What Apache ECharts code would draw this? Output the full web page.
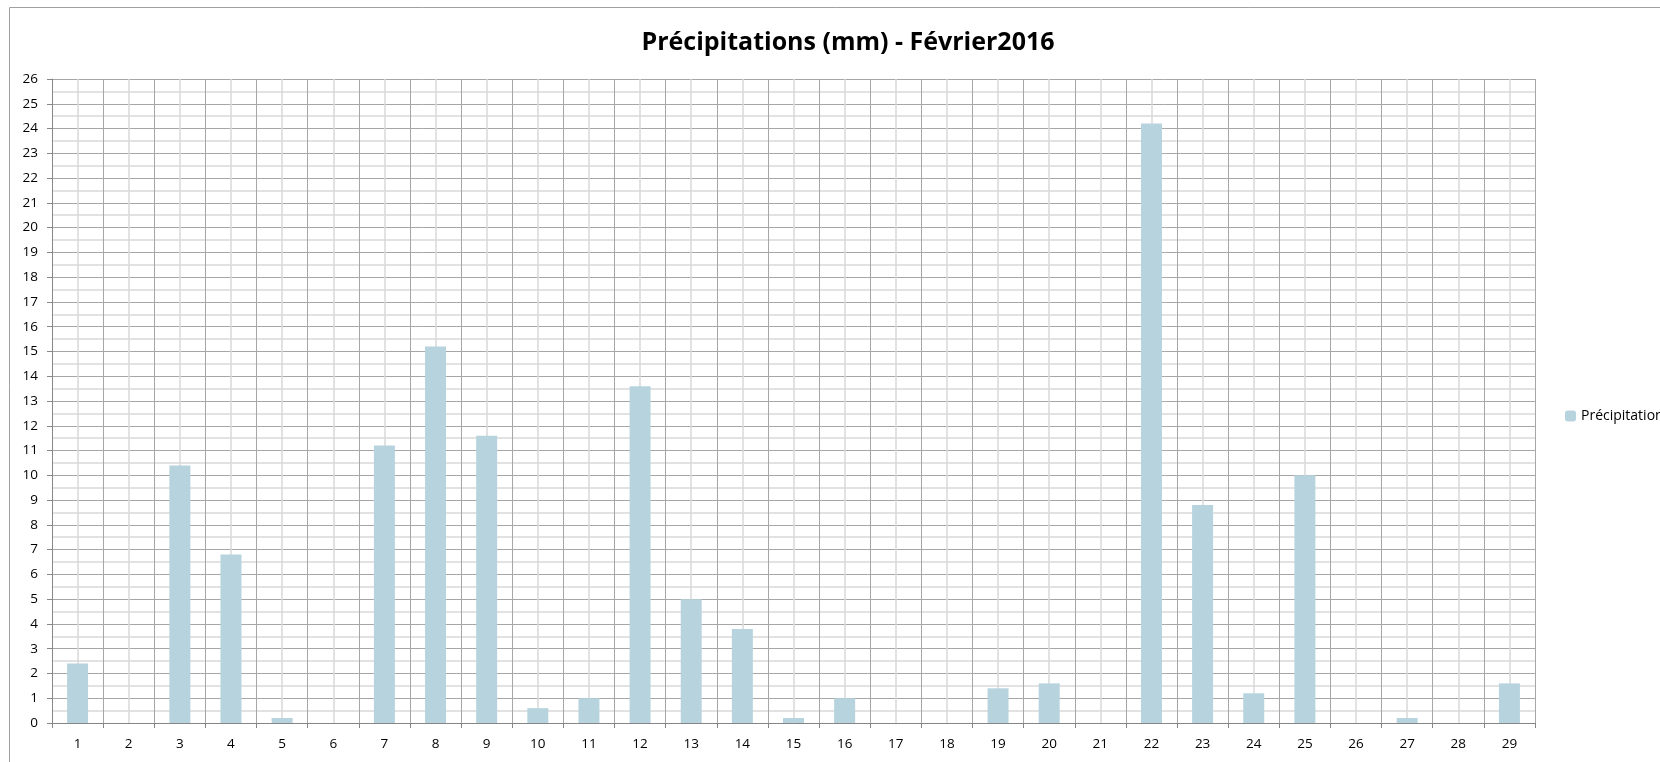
<!DOCTYPE html>
<html>
<head>
<meta charset="utf-8">
<script src="https://cdn.jsdelivr.net/npm/echarts@6/dist/echarts.min.js"></script>
<style>html,body{margin:0;padding:0;background:#fff;}#c{width:1660px;height:762px;}</style>
</head>
<body>
<div id="c"></div>
<script>
const titleText = 'Précipitations (mm) - Février2016';
const seriesName = 'Précipitations';
const days = ['1','2','3','4','5','6','7','8','9','10','11','12','13','14','15','16','17','18','19','20','21','22','23','24','25','26','27','28','29'];
const rain = [2.4,0,10.4,6.8,0.2,0,11.2,15.2,11.6,0.6,1.0,13.6,5.0,3.8,0.2,1.0,0,0,1.4,1.6,0,24.2,8.8,1.2,10.0,0,0.2,0,1.6];

const chart = echarts.init(document.getElementById('c'), null, {renderer:'canvas'});
const font = "'Open Sans', 'Noto Sans', sans-serif";
chart.setOption({
  animation:false,
  backgroundColor:'#fff',
  graphic:[{type:'rect', shape:{x:9.5,y:7.5,width:1700,height:800}, style:{fill:'none', stroke:'#a0a0a0', lineWidth:1}, z:-10}],
  title:{text:titleText, left:843, top:25, textAlign:'center',
    textStyle:{fontFamily:font, fontWeight:'bold', fontSize:25, color:'#000'}},
  legend:{data:[seriesName], left:1560, top:404, orient:'vertical', itemWidth:11, itemHeight:11, itemGap:4,
    textStyle:{fontFamily:font, fontSize:14, color:'#000'}},
  grid:{left:52, top:79, width:1483, height:644, containLabel:false},
  xAxis:[{type:'category', data:days, boundaryGap:true,
      axisLine:{lineStyle:{color:'#868686'}}, axisTick:{show:true, length:5, lineStyle:{color:'#868686'}},
      axisLabel:{fontFamily:font, fontSize:13.5, color:'#000', margin:14}, splitLine:{show:false}},
    {type:'value', min:0, max:days.length, interval:1, show:true, position:'bottom',
      axisLine:{show:false}, axisTick:{show:false}, axisLabel:{show:false},
      splitLine:{show:true, lineStyle:{color:'#a6a6a6', width:1}},
      minorTick:{show:false, splitNumber:2},
      minorSplitLine:{show:true, lineStyle:{color:'#d9d9d9', width:1.5}}}],
  yAxis:{type:'value', min:0, max:26, interval:1,
    axisLine:{show:true, lineStyle:{color:'#868686'}}, axisTick:{show:true, length:5, inside:false, lineStyle:{color:'#868686'}},
    axisLabel:{fontFamily:font, fontSize:13.5, color:'#000', margin:14},
    splitLine:{show:true, lineStyle:{color:'#a6a6a6', width:1}},
    minorTick:{show:false, splitNumber:2},
    minorSplitLine:{show:true, lineStyle:{color:'#d9d9d9', width:1.5}}},
  series:[{name:seriesName, type:'bar', xAxisIndex:0, data:rain, barWidth:21,
    itemStyle:{color:'#b7d4de'}}]
});
</script>
</body>
</html>
